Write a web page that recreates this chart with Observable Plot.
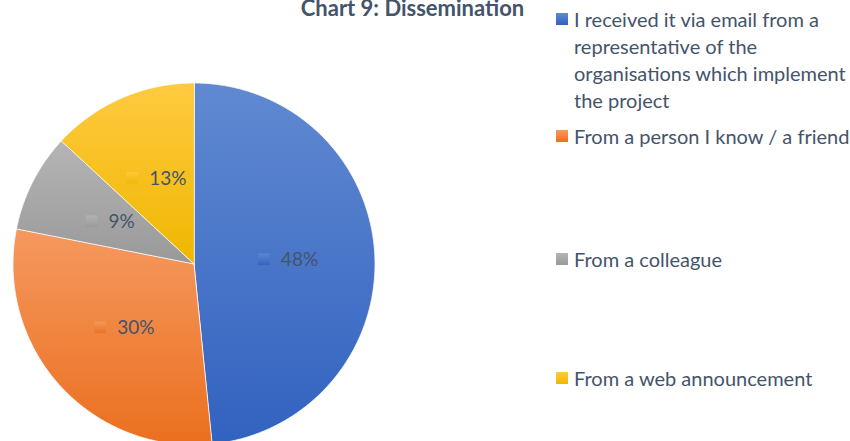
<!DOCTYPE html>
<html><head><meta charset="utf-8">
<script src="https://cdn.jsdelivr.net/npm/d3@7"></script>
<script src="https://cdn.jsdelivr.net/npm/@observablehq/plot@0.6"></script>
<style>
body{margin:0;background:#fff;}
#wrap{position:relative;width:850px;height:441px;overflow:hidden;font-family:Lato,"Open Sans",sans-serif;color:#44546a;}
#wrap svg{position:absolute;left:0;top:0;}
#title{position:absolute;left:0;width:825px;text-align:center;top:-3px;font-weight:bold;font-size:22px;line-height:1;}
.leg{position:absolute;left:556px;width:300px;font-size:20px;line-height:27px;}
.leg .sw{position:absolute;left:0;top:7px;width:12px;height:12px;}
.leg .tx{margin-left:18px;}
</style></head>
<body><div id="wrap"></div>
<script>
// ---- data ----
const title = "Chart 9: Dissemination";
const categories = [
  "I received it via email from a representative of the organisations which implement the project",
  "From a person I know / a friend",
  "From a colleague",
  "From a web announcement"
];
const values = [48.4, 29.7, 8.8, 13.1];

// ---- styles ----
const gradients = [
  ["#6089d1", "#3262c0"],
  ["#f5995f", "#eb6f1f"],
  ["#b5b5b5", "#999999"],
  ["#ffca40", "#efb700"]
];
const textColor = "#44546a";
const cx = 193.5, cy = 263.5, R = 181;
const labelFont = 19;
const legendFirstLineCenters = [19, 136, 259, 378];

const rows = categories.map((name, i) => ({name, value: values[i]}));
const arcs = d3.pie().sort(null).value(d => d.value)(rows);

const polys = [];
for (const a of arcs) {
  polys.push({name: a.data.name, x: 0, y: 0});
  const n = Math.max(2, Math.ceil((a.endAngle - a.startAngle) / 0.005));
  for (let k = 0; k <= n; k++) {
    const t = a.startAngle + (a.endAngle - a.startAngle) * k / n;
    polys.push({name: a.data.name, x: Math.sin(t), y: Math.cos(t)});
  }
}

const ctx = document.createElement("canvas").getContext("2d");
ctx.font = labelFont + "px Lato";
const labels = arcs.map(a => {
  const mid = (a.startAngle + a.endAngle) / 2;
  const text = Math.round(a.data.value) + "%";
  const tw = ctx.measureText(text).width;
  const w = 23 + tw;
  const lx = 0.52 * Math.sin(mid), ly = 0.52 * Math.cos(mid);
  return {name: a.data.name, text, ly,
    sx: lx + (-w / 2 + 6) / R,
    tx: lx + (-w / 2 + 23) / R};
});

const color = {domain: categories, range: categories.map((_, i) => `url(#grad${i})`)};

const chart = Plot.plot({
  width: 850, height: 441,
  x: {domain: [-1, 1], range: [cx - R, cx + R], axis: null},
  y: {domain: [-1, 1], range: [cy + R, cy - R], axis: null},
  color,
  style: {background: "transparent", overflow: "hidden"},
  marks: [
    Plot.line(polys, {x: "x", y: "y", z: "name", fill: "name", stroke: "white", strokeWidth: 0.8, curve: "linear-closed"}),
    Plot.dot(labels, {x: "sx", y: "ly", fill: "name", symbol: "square", r: 6.6, stroke: "none", fillOpacity: 0.85}),
    Plot.text(labels, {x: "tx", y: "ly", text: "text", textAnchor: "start", fill: textColor, fontSize: labelFont, fontFamily: "Lato", dy: 1})
  ]
});

const svg = d3.select(chart);
const defs = svg.insert("defs", ":first-child");
gradients.forEach(([top, bottom], i) => {
  const g = defs.append("linearGradient").attr("id", "grad" + i)
    .attr("x1", 0).attr("y1", 0).attr("x2", 0).attr("y2", 1);
  g.append("stop").attr("offset", 0).attr("stop-color", top);
  g.append("stop").attr("offset", 1).attr("stop-color", bottom);
});

const wrap = document.getElementById("wrap");
wrap.appendChild(chart);

const t = document.createElement("div");
t.id = "title"; t.textContent = title;
wrap.appendChild(t);

categories.forEach((name, i) => {
  const d = document.createElement("div");
  d.className = "leg";
  d.style.top = (legendFirstLineCenters[i] - 13.5) + "px";
  const sw = document.createElement("div");
  sw.className = "sw";
  sw.style.background = `linear-gradient(${gradients[i][0]}, ${gradients[i][1]})`;
  const tx = document.createElement("div");
  tx.className = "tx"; tx.textContent = name;
  d.appendChild(sw); d.appendChild(tx);
  wrap.appendChild(d);
});
</script>
</body></html>
